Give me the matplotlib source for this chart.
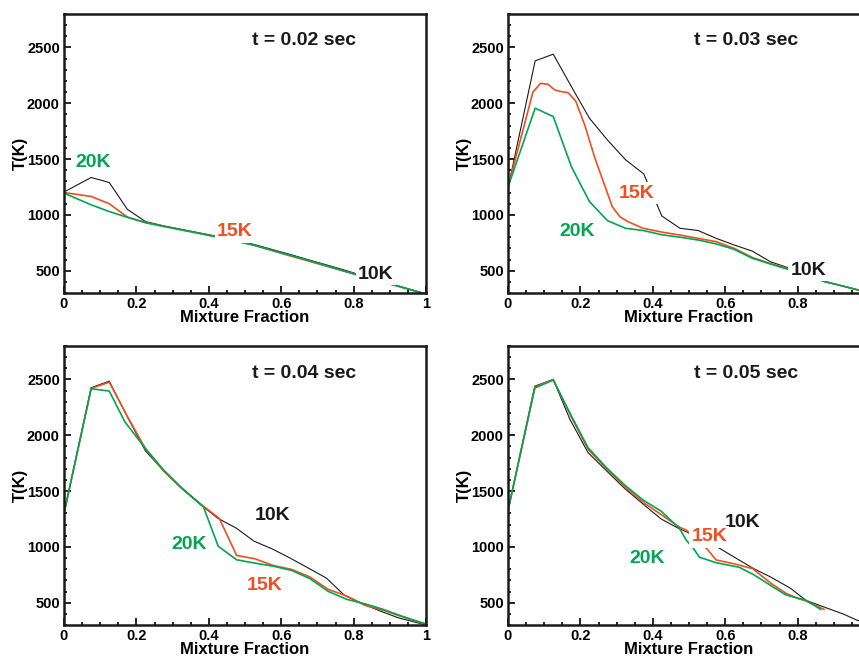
import matplotlib
matplotlib.use("Agg")
import matplotlib.pyplot as plt
from matplotlib.ticker import MultipleLocator

plt.rcParams['font.family'] = ['Liberation Sans', 'DejaVu Sans']

# ---------------- data ----------------
titles = ["t = 0.02 sec", "t = 0.03 sec", "t = 0.04 sec", "t = 0.05 sec"]
series_names = ["10K", "15K", "20K"]

xgrid = [0, 0.075, 0.125, 0.175, 0.225, 0.275, 0.325, 0.375, 0.425, 0.475,
         0.525, 0.575, 0.625, 0.675, 0.725, 0.775, 0.825, 0.875, 0.925, 0.975, 1.0]

# t = 0.02 sec
p1_10K_x = xgrid
p1_10K_y = [1205, 1335, 1290, 1050, 940, 902, 870, 838, 806, 770, 735, 690, 645,
            598, 552, 505, 455, 408, 362, 315, 292]
p1_15K_x = xgrid
p1_15K_y = [1200, 1165, 1100, 980, 932, 898, 866, 834, 802, 766, 728, 680, 632,
            587, 540, 495, 450, 405, 360, 313, 290]
p1_20K_x = xgrid
p1_20K_y = [1195, 1090, 1030, 978, 930, 897, 865, 833, 800, 765, 728, 683, 638,
            592, 545, 495, 448, 403, 358, 313, 290]

# t = 0.03 sec
p2_10K_x = xgrid
p2_10K_y = [1240, 2380, 2440, 2150, 1866, 1670, 1493, 1367, 990, 880, 860, 790, 730,
            675, 580, 525, 460, 400, 362, 322, 303]
p2_15K_x = [0, 0.069, 0.090, 0.111, 0.129, 0.148, 0.166, 0.187, 0.212, 0.240, 0.288,
            0.309, 0.331, 0.373, 0.428, 0.474, 0.524, 0.575, 0.625, 0.674, 0.722,
            0.763, 0.825, 0.875, 0.925, 0.975, 1.0]
p2_15K_y = [1250, 2101, 2179, 2170, 2119, 2104, 2095, 2020, 1805, 1510, 1074,
            984, 940, 880, 844, 820, 790, 760, 700, 620, 566,
            530, 458, 403, 362, 320, 302]
p2_20K_x = xgrid
p2_20K_y = [1250, 1956, 1881, 1433, 1119, 948, 880, 859, 822, 800, 775, 740, 691,
            611, 560, 510, 455, 403, 362, 320, 302]

# t = 0.04 sec
p3_10K_x = xgrid
p3_10K_y = [1300, 2426, 2485, 2165, 1860, 1682, 1524, 1384, 1256, 1170, 1051, 982, 899,
            810, 720, 565, 491, 423, 363, 321, 300]
p3_15K_x = [0, 0.075, 0.125, 0.175, 0.225, 0.275, 0.325, 0.375, 0.429, 0.477, 0.528,
            0.578, 0.629, 0.680, 0.730, 0.781, 0.831, 0.882, 0.928, 0.975, 1.0]
p3_15K_y = [1300, 2420, 2476, 2170, 1880, 1680, 1524, 1390, 1255, 923, 893,
            833, 798, 729, 619, 560, 476, 432, 381, 330, 305]
p3_20K_x = [0, 0.075, 0.125, 0.168, 0.225, 0.275, 0.325, 0.385, 0.426, 0.477, 0.528,
            0.578, 0.629, 0.680, 0.730, 0.781, 0.831, 0.882, 0.928, 0.975, 1.0]
p3_20K_y = [1300, 2417, 2396, 2122, 1881, 1690, 1530, 1360, 1006, 884, 854,
            827, 789, 714, 601, 530, 490, 440, 385, 335, 310]

# t = 0.05 sec
p4_10K_x = [0, 0.074, 0.125, 0.171, 0.221, 0.272, 0.322, 0.373, 0.423, 0.474, 0.492,
            0.583, 0.625, 0.676, 0.726, 0.780, 0.823, 0.873, 0.925, 0.965, 1.0]
p4_10K_y = [1325, 2440, 2500, 2143, 1845, 1682, 1524, 1384, 1250, 1161, 1136,
            990, 908, 810, 729, 630, 521, 461, 400, 342, 310]
p4_15K_x = [0, 0.074, 0.125, 0.174, 0.221, 0.272, 0.322, 0.373, 0.423, 0.474, 0.492,
            0.550, 0.575, 0.625, 0.676, 0.726, 0.768, 0.800, 0.823, 0.873]
p4_15K_y = [1325, 2430, 2500, 2170, 1875, 1700, 1540, 1400, 1290, 1176, 1151,
            981, 883, 848, 805, 674, 584, 539, 515, 440]
p4_20K_x = [0, 0.074, 0.125, 0.174, 0.221, 0.272, 0.322, 0.373, 0.423, 0.474, 0.492,
            0.512, 0.529, 0.575, 0.639, 0.680, 0.731, 0.768, 0.823, 0.864]
p4_20K_y = [1325, 2423, 2495, 2180, 1890, 1710, 1555, 1420, 1320, 1165, 1062,
            987, 907, 858, 817, 748, 643, 569, 521, 440]

panels = [
    [(p1_10K_x, p1_10K_y), (p1_15K_x, p1_15K_y), (p1_20K_x, p1_20K_y)],
    [(p2_10K_x, p2_10K_y), (p2_15K_x, p2_15K_y), (p2_20K_x, p2_20K_y)],
    [(p3_10K_x, p3_10K_y), (p3_15K_x, p3_15K_y), (p3_20K_x, p3_20K_y)],
    [(p4_10K_x, p4_10K_y), (p4_15K_x, p4_15K_y), (p4_20K_x, p4_20K_y)],
]

# label anchor positions (data coords) for 10K, 15K, 20K in each panel
label_pos = [
    [(0.862, 470), (0.472, 847), (0.080, 1465)],
    [(0.829, 506), (0.355, 1196), (0.190, 847)],
    [(0.575, 1277), (0.555, 650), (0.345, 1017)],
    [(0.647, 1214), (0.556, 1089), (0.383, 900)],
]
title_pos = [(0.663, 2567), (0.658, 2567), (0.663, 2558), (0.658, 2558)]

xticks = [0, 0.2, 0.4, 0.6, 0.8, 1.0]
xtick_labels_left = ["0", "0.2", "0.4", "0.6", "0.8", "1"]
xtick_labels_right = ["0", "0.2", "0.4", "0.6", "0.8", ""]   # "1" falls off the page
yticks = [500, 1000, 1500, 2000, 2500]
ytick_labels = ["500", "1000", "1500", "2000", "2500"]

colors = ["#1a1a1a", "#f04e23", "#00a651"]
lws = [0.8, 1.2, 1.2]

# ---------------- figure ----------------
fig = plt.figure(figsize=(8.59, 6.56), dpi=100)
W, H = 859.0, 656.0
rects = [
    (64 / W, 1 - 293 / H, 362 / W, 279 / H),
    (508 / W, 1 - 293 / H, 362 / W, 279 / H),
    (64 / W, 1 - 625 / H, 362 / W, 279 / H),
    (508 / W, 1 - 625 / H, 362 / W, 279 / H),
]

for i, rect in enumerate(rects):
    ax = fig.add_axes(rect)
    for j, (xs, ys) in enumerate(panels[i]):
        ax.plot(xs, ys, color=colors[j], lw=lws[j], zorder=2 + j * 0.1)
    ax.set_xlim(0, 1)
    ax.set_ylim(300, 2800)
    ax.set_xticks(xticks)
    ax.set_xticklabels(xtick_labels_left if i % 2 == 0 else xtick_labels_right)
    ax.set_yticks(yticks)
    ax.set_yticklabels(ytick_labels)
    ax.xaxis.set_minor_locator(MultipleLocator(0.05))
    ax.yaxis.set_minor_locator(MultipleLocator(100))
    ax.tick_params(which='both', direction='in', top=False, right=False,
                   width=1.2, labelsize=10.5, pad=3)
    ax.tick_params(which='major', length=5)
    ax.tick_params(which='minor', length=2.5)
    for lab in ax.get_xticklabels() + ax.get_yticklabels():
        lab.set_fontweight('bold')
    for sp in ax.spines.values():
        sp.set_linewidth(1.8)
        sp.set_color('#1a1a1a')
    ax.set_xlabel("Mixture Fraction", fontsize=12, fontweight='bold')
    ax.xaxis.set_label_coords(0.5, -0.062)
    ax.set_ylabel("T(K)", fontsize=12, fontweight='bold')
    ax.yaxis.set_label_coords(-0.10, 0.5)

    ax.text(title_pos[i][0], title_pos[i][1], titles[i], fontsize=14,
            fontweight='bold', ha='center', va='center', color='#1a1a1a', zorder=6)
    for j, name in enumerate(series_names):
        lx, ly = label_pos[i][j]
        ax.text(lx, ly, name, fontsize=14, fontweight='bold', color=colors[j],
                ha='center', va='center', zorder=5 + j * 0.1,
                bbox=dict(facecolor='white', edgecolor='none', pad=1.5))

fig.savefig("out.png", dpi=100)
